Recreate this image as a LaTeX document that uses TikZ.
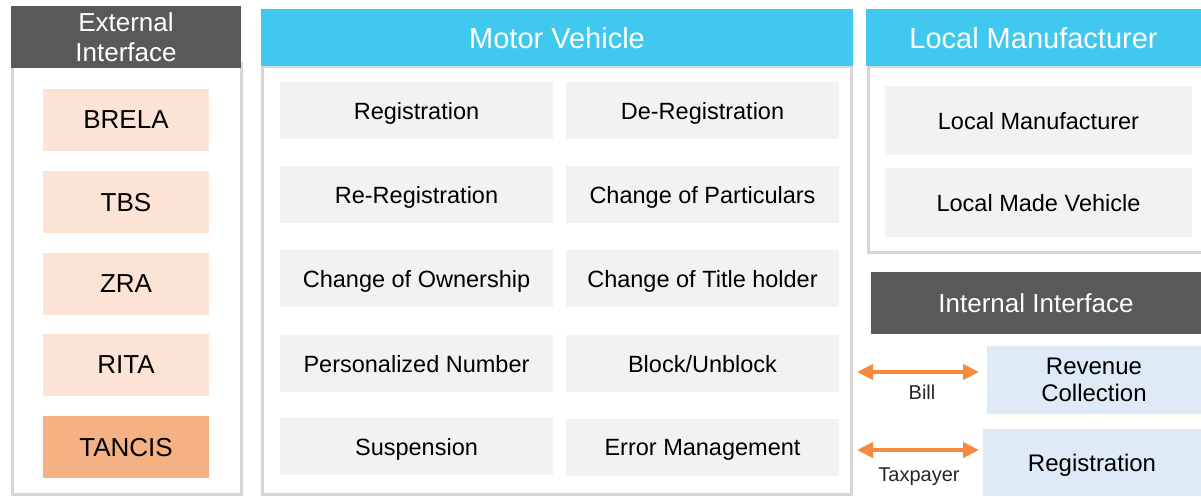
\documentclass[tikz,border=0pt]{standalone}
\usepackage{fontspec}
\setmainfont{Liberation Sans}
\usetikzlibrary{arrows.meta}
\definecolor{hdrdark}{HTML}{595959}
\definecolor{hdrcyan}{HTML}{41C8EE}
\definecolor{panelline}{HTML}{D6D6D6}
\definecolor{boxgray}{HTML}{F2F2F2}
\definecolor{peach}{HTML}{FBE4D5}
\definecolor{tancis}{HTML}{F4B183}
\definecolor{lblue}{HTML}{DEEBF7}
\definecolor{arrorange}{HTML}{F58A3F}
\newcommand{\fs}[2]{\fontsize{#1}{#2}\selectfont}
\newcommand{\bx}[7]{\node[#6, minimum width={#4-#2}, minimum height={#5-#3}] (#1) at ({(#2+#4)/2},{(#3+#5)/2}) {#7};}
\tikzset{
  base/.style={rectangle, inner sep=0pt, outer sep=0pt, align=center},
  panel/.style={base, draw=panelline, line width=3pt},
  darkhdr/.style={base, fill=hdrdark, text=white, font=\fs{26}{30}, text depth=0pt},
  cyanhdr/.style={base, fill=hdrcyan, text=white, font=\fs{29}{33}, text depth=0pt},
  extbox/.style={base, fill=peach, font=\fs{26}{30}, text depth=0pt},
  tanbox/.style={base, fill=tancis, font=\fs{26}{30}, text depth=0pt},
  graybox/.style={base, fill=boxgray, font=\fs{23.5}{27}, text depth=0pt},
  bluebox/.style={base, fill=lblue, font=\fs{24}{27}, text depth=0pt},
  biarrow/.style={arrorange, line width=4pt, {Triangle[length=16pt,width=15pt]}-{Triangle[length=16pt,width=15pt]}},
  lbl/.style={base, font=\fs{20}{24}, text=black!85}
}
\begin{document}
\begin{tikzpicture}[x=1pt,y=-1pt]
\useasboundingbox (0,0) rectangle (1201,496);
% External interface
\bx{extpanel}{12}{63}{241}{494}{panel}{}
\bx{exthdr}{11}{6}{241}{68}{darkhdr}{External\\Interface}
\bx{brela}{43}{89}{209}{151}{extbox}{BRELA}
\bx{tbs}{43}{171}{209}{233}{extbox}{TBS}
\bx{zra}{43}{253}{209}{315}{extbox}{ZRA}
\bx{rita}{43}{334}{209}{396}{extbox}{RITA}
\bx{tancisb}{43}{416}{209}{478}{tanbox}{TANCIS}
% Motor vehicle
\bx{mvpanel}{262}{66}{851}{494}{panel}{}
\bx{mvhdr}{261}{9}{853}{66}{cyanhdr}{Motor Vehicle}
\bx{reg}{280}{82}{553}{139}{graybox}{Registration}
\bx{dereg}{566}{82}{839}{139}{graybox}{De-Registration}
\bx{rereg}{280}{166}{553}{223}{graybox}{Re-Registration}
\bx{chpart}{566}{166}{839}{223}{graybox}{Change of Particulars}
\bx{chown}{280}{250}{553}{307}{graybox}{Change of Ownership}
\bx{chtitle}{566}{250}{839}{307}{graybox}{Change of Title holder}
\bx{persnum}{280}{335}{553}{392}{graybox}{Personalized Number}
\bx{block}{566}{335}{839}{392}{graybox}{Block/Unblock}
\bx{susp}{280}{418}{553}{475}{graybox}{Suspension}
\bx{errmgmt}{566}{419}{839}{476}{graybox}{Error Management}
% Local manufacturer
\bx{lmpanel}{868}{66}{1204}{252}{panel}{}
\bx{lmhdr}{866}{9}{1201}{66}{cyanhdr}{Local Manufacturer}
\bx{lmbox}{885}{86}{1192}{155}{graybox}{Local Manufacturer}
\bx{lmvbox}{885}{168}{1192}{237}{graybox}{Local Made Vehicle}
% Internal interface
\bx{inthdr}{871}{272}{1201}{334}{darkhdr}{Internal Interface}
\bx{revcol}{987}{346}{1201}{414}{bluebox}{Revenue\\Collection}
\bx{regint}{983}{429}{1201}{496}{bluebox}{Registration}
% Arrows
\coordinate (billL) at (857,372);
\coordinate (billR) at (979,372);
\coordinate (taxL) at (857,450);
\coordinate (taxR) at (979,450);
\draw[biarrow] (billL) -- (billR);
\draw[biarrow] (taxL) -- (taxR);
\node[lbl] (billlbl) at (922,392) {Bill};
\node[lbl] (taxlbl) at (919,477) {Taxpayer};
\end{tikzpicture}
\end{document}
